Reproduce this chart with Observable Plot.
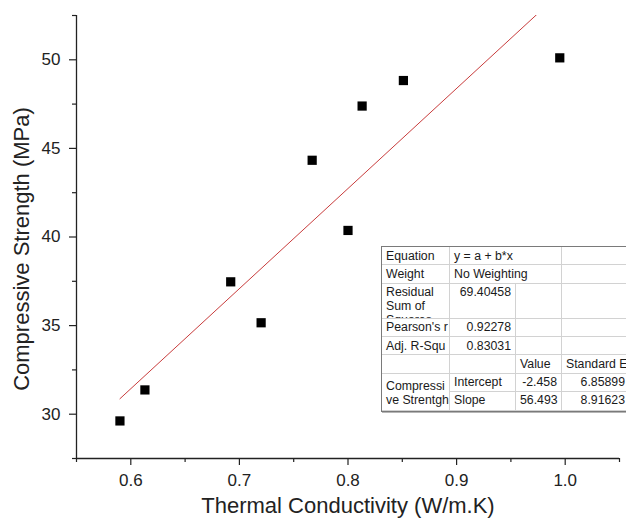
<!DOCTYPE html>
<html>
<head>
<meta charset="utf-8">
<script src="https://cdn.jsdelivr.net/npm/d3@7"></script>
<script src="https://cdn.jsdelivr.net/npm/@observablehq/plot@0.6"></script>
<style>
  html, body { margin: 0; padding: 0; background: #fff; }
  #wrap { position: relative; width: 626px; height: 518px; overflow: hidden; font-family: "Liberation Sans", Arial, sans-serif; }
  .fit { position: absolute; left: 381px; top: 246px; display: grid;
    grid-template-columns: 68px 66px 46px 68px;
    grid-template-rows: 18px 18.5px 35px 18.5px 18.3px 18.3px 18.4px 19px;
    border: 1px solid #7a7a7a; box-shadow: 1px 1px 0 #b5b5b5;
    background: #fff; color: #1a1a1a; font-size: 12.3px; line-height: 14.5px; }
  .fit div { box-sizing: border-box; border-right: 1px solid #d2d2d2; border-bottom: 1px solid #d2d2d2;
    padding: 1.5px 4px 0 4px; overflow: hidden; white-space: nowrap; }
  .fit div.num { text-align: right; }
  .fit div.wrap { white-space: normal; padding-top: 1px; line-height: 14px; }
  .fit div.mid { padding-top: 5px; }
</style>
</head>
<body>
<div id="wrap"></div>
<script>
// ---- data ----
const conductivity = [0.590, 0.613, 0.692, 0.720, 0.767, 0.800, 0.813, 0.851, 0.995];
const strength     = [29.62, 31.37, 37.47, 35.16, 44.33, 40.37, 47.39, 48.83, 50.11];
const xTicks = [0.6, 0.7, 0.8, 0.9, 1.0];
const xMinor = [0.55, 0.65, 0.75, 0.85, 0.95, 1.05];
const yTicks = [30, 35, 40, 45, 50];
const yMinor = [27.5, 32.5, 37.5, 42.5, 47.5, 52.5];
const xLabel = "Thermal Conductivity (W/m.K)";
const yLabel = "Compressive Strength (MPa)";
// fit table
const fitLabels = ["Equation", "Weight", "Residual Sum of Squares", "Pearson's r", "Adj. R-Squ"];
const fitValues = ["y = a + b*x", "No Weighting", "69.40458", "0.92278", "0.83031"];
const paramHeaders = ["Value", "Standard E"];
const paramGroup = ["Compressi", "ve Strentgh"];
const paramNames = ["Intercept", "Slope"];
const paramValues = [-2.458, 56.493];
const paramErrors = ["6.85899", "8.91623"];

// ---- derived ----
const points = conductivity.map((x, i) => ({x, y: strength[i]}));
const fitX = [d3.min(conductivity), d3.max(conductivity)];
const fitLine = fitX.map(x => ({x, y: paramValues[0] + paramValues[1] * x}));

const axisColor = "#222";
const chart = Plot.plot({
  width: 626,
  height: 518,
  marginLeft: 76,
  marginRight: 7,
  marginTop: 15,
  marginBottom: 60,
  style: {fontFamily: "'Liberation Sans', Arial, sans-serif", fontSize: "17px", color: axisColor, background: "transparent"},
  x: {domain: [0.55, 1.05]},
  y: {domain: [27.5, 52.5]},
  marks: [
    Plot.axisX(xTicks, {tickSize: 7, tickPadding: 8, tickFormat: d3.format(".1f"), strokeWidth: 1.2, label: null}),
    Plot.axisX(xMinor, {tickSize: 4, tickFormat: null, text: null, strokeWidth: 1.2, label: null}),
    Plot.axisY(yTicks, {tickSize: 7, tickPadding: 9, tickFormat: d3.format("d"), strokeWidth: 1.2, label: null}),
    Plot.axisY(yMinor, {tickSize: 4, tickFormat: null, text: null, strokeWidth: 1.2, label: null}),
    Plot.ruleY([27.5], {stroke: axisColor, strokeWidth: 1.3}),
    Plot.ruleX([0.55], {stroke: axisColor, strokeWidth: 1.3}),
    Plot.line(fitLine, {x: "x", y: "y", stroke: "#c83c3c", strokeWidth: 1, clip: true}),
    Plot.dot(points, {x: "x", y: "y", symbol: "square", r: 5.2, fill: "black", stroke: "none"}),
    Plot.text([xLabel], {frameAnchor: "bottom", text: d => d, fontSize: 22, textAnchor: "middle", lineAnchor: "middle", dy: 47, fill: axisColor}),
    Plot.text([yLabel], {frameAnchor: "left", text: d => d, fontSize: 22, rotate: -90, textAnchor: "middle", lineAnchor: "middle", dx: -55, dy: 12, fill: axisColor})
  ]
});
const wrap = document.getElementById("wrap");
wrap.appendChild(chart);

// ---- fit results table ----
const tbl = document.createElement("div");
tbl.className = "fit";
function cell(text, cls, col, row, colSpan = 1, rowSpan = 1) {
  const c = document.createElement("div");
  if (cls) c.className = cls;
  if (Array.isArray(text)) { text.forEach((t, i) => { if (i) c.appendChild(document.createElement("br")); c.appendChild(document.createTextNode(t)); }); }
  else c.textContent = text;
  c.style.gridColumn = `${col} / span ${colSpan}`;
  c.style.gridRow = `${row} / span ${rowSpan}`;
  tbl.appendChild(c);
}
fitLabels.forEach((lab, i) => {
  const r = i + 1;
  cell(lab, i === 2 ? "wrap" : "", 1, r);
  if (i < 2) {
    cell(fitValues[i], "", 2, r, 2);
  } else {
    cell(fitValues[i], "num", 2, r);
    cell("", "", 3, r);
  }
  cell("", "", 4, r);
});
cell("", "", 1, 6); cell("", "", 2, 6);
cell(paramHeaders[0], "", 3, 6); cell(paramHeaders[1], "", 4, 6);
cell(paramGroup, "mid", 1, 7, 1, 2);
paramNames.forEach((n, i) => {
  cell(n, "", 2, 7 + i);
  cell(paramValues[i].toFixed(3), "num", 3, 7 + i);
  cell(paramErrors[i], "num", 4, 7 + i);
});
wrap.appendChild(tbl);
</script>
</body>
</html>
